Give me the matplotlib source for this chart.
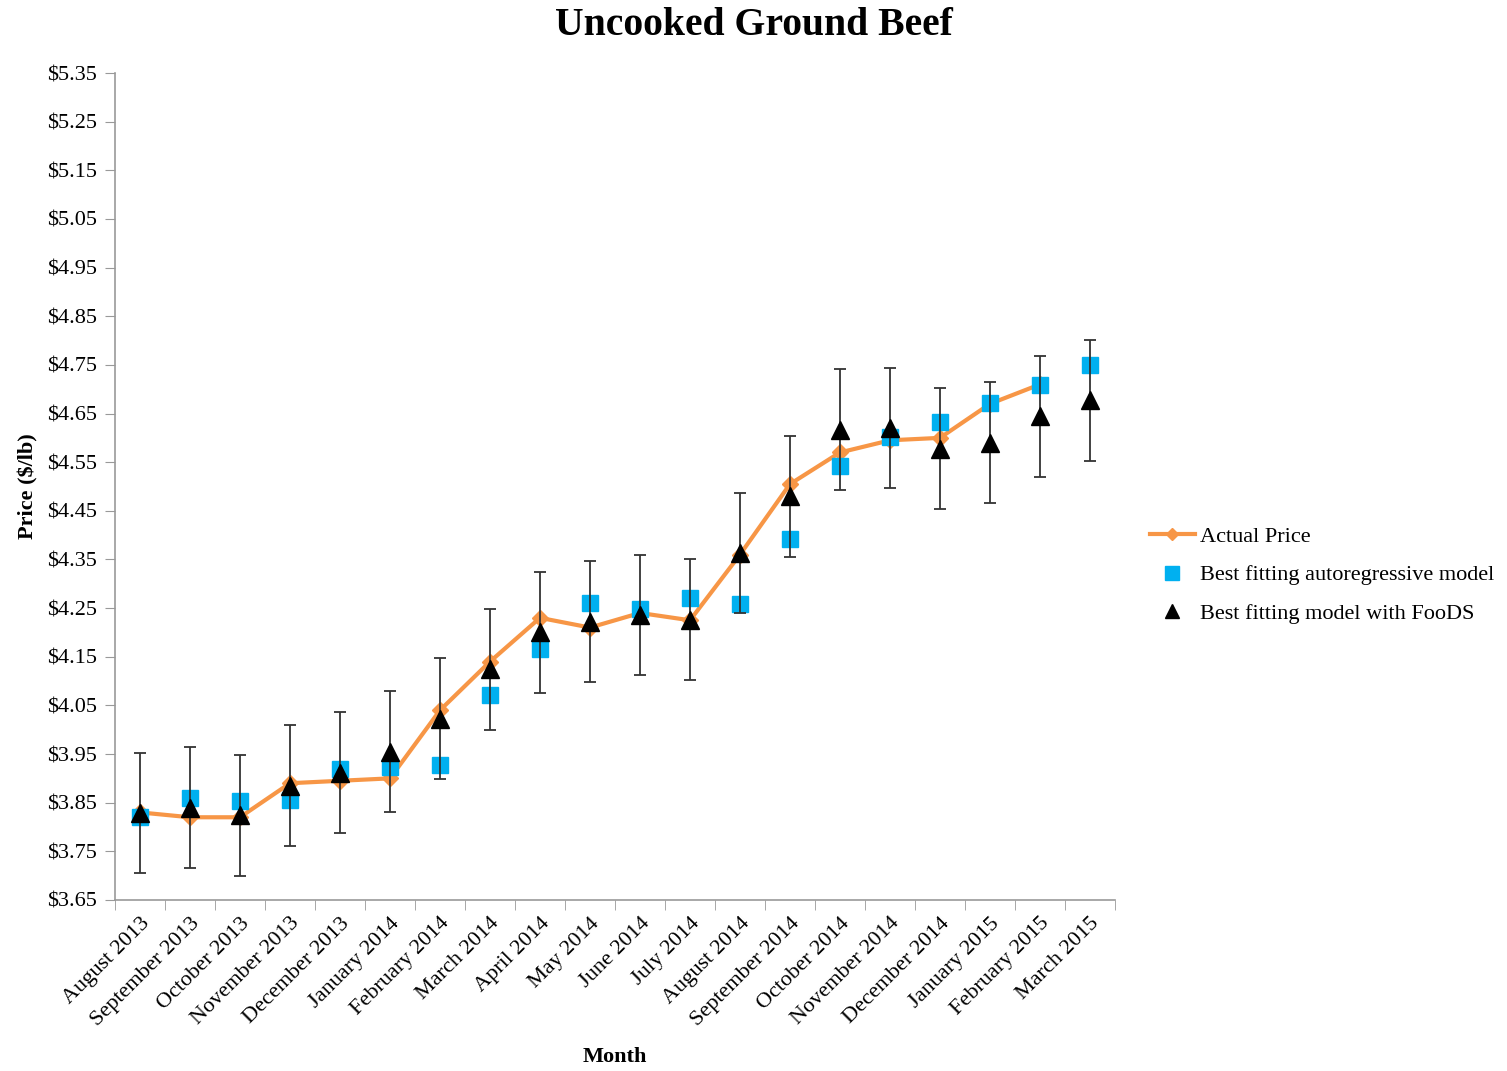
import numpy as np
import matplotlib
matplotlib.use('Agg')
from matplotlib import pyplot as plt
from matplotlib.ticker import FixedLocator, FuncFormatter

months = ['August 2013', 'September 2013', 'October 2013', 'November 2013',
          'December 2013', 'January 2014', 'February 2014', 'March 2014',
          'April 2014', 'May 2014', 'June 2014', 'July 2014', 'August 2014',
          'September 2014', 'October 2014', 'November 2014', 'December 2014',
          'January 2015', 'February 2015', 'March 2015']

# observed price, no value yet for the last month
actual_price = [3.83, 3.82, 3.82, 3.89, 3.895, 3.90, 4.04, 4.14, 4.23, 4.21,
                4.24, 4.225, 4.36, 4.505, 4.57, 4.595, 4.60, 4.67, 4.71, np.nan]

autoregressive = [3.82, 3.86, 3.854, 3.856, 3.919, 3.923, 3.927, 4.071, 4.166,
                  4.26, 4.248, 4.271, 4.258, 4.392, 4.542, 4.602, 4.633, 4.672,
                  4.709, 4.75]

foods_model = [3.829, 3.84, 3.824, 3.885, 3.912, 3.955, 4.023, 4.124, 4.20,
               4.222, 4.236, 4.226, 4.363, 4.48, 4.617, 4.62, 4.578, 4.59,
               4.644, 4.677]

foods_error = [0.124] * 20


def main():
    plt.rcParams['font.family'] = ['Liberation Serif', 'DejaVu Serif']
    plt.rcParams['font.size'] = 16

    fig = plt.figure(figsize=(15.07, 10.71), dpi=100)
    ax = fig.add_axes([0.0763, 0.1597, 0.6636, 0.7721])

    x = np.arange(len(months))

    ax.plot(x, actual_price, color='#F79646', linewidth=3, marker='D',
            markersize=8, label='Actual Price', zorder=2)
    ax.plot(x, autoregressive, linestyle='none', marker='s', markersize=12,
            color='#00B0F0', label='Best fitting autoregressive model', zorder=3)
    ax.errorbar(x, foods_model, yerr=foods_error, fmt='none', ecolor='#333333',
                elinewidth=1.3, capsize=4.5, capthick=1.3, zorder=4)
    ax.plot(x, foods_model, linestyle='none', marker='^', markersize=13,
            color='black', label='Best fitting model with FooDS', zorder=5)

    ax.set_xlim(-0.5, len(months) - 0.5)
    ax.set_ylim(3.65, 5.35)
    ax.set_yticks(np.arange(3.65, 5.351, 0.1))
    ax.yaxis.set_major_formatter(FuncFormatter(lambda v, p: '\\$%.2f' % v))

    ax.set_xticks(x)
    ax.set_xticklabels(months, rotation=45, ha='right', rotation_mode='anchor')
    ax.xaxis.set_minor_locator(FixedLocator(np.arange(-0.5, len(months), 1)))
    ax.tick_params(axis='x', which='major', length=0, pad=10)
    ax.tick_params(axis='x', which='minor', length=7, color='#999999')
    ax.tick_params(axis='y', length=7, color='#999999', pad=6)

    for side in ['top', 'right']:
        ax.spines[side].set_visible(False)
    for side in ['left', 'bottom']:
        ax.spines[side].set_color('#999999')
        ax.spines[side].set_linewidth(1.2)

    fig.text(0.5, 0.976, 'Uncooked Ground Beef', fontsize=28.5,
             fontweight='bold', ha='center', va='center')
    ax.set_xlabel('Month', fontweight='bold', labelpad=12)
    ax.set_ylabel('Price (\\$/lb)', fontweight='bold', labelpad=6)

    fig.legend(loc='center left', bbox_to_anchor=(0.750, 0.463), frameon=False,
               handlelength=2.0, handletextpad=0.25, labelspacing=0.8,
               markerscale=0.8, fontsize=16)

    fig.savefig('out.png', dpi=100)


if __name__ == '__main__':
    main()
